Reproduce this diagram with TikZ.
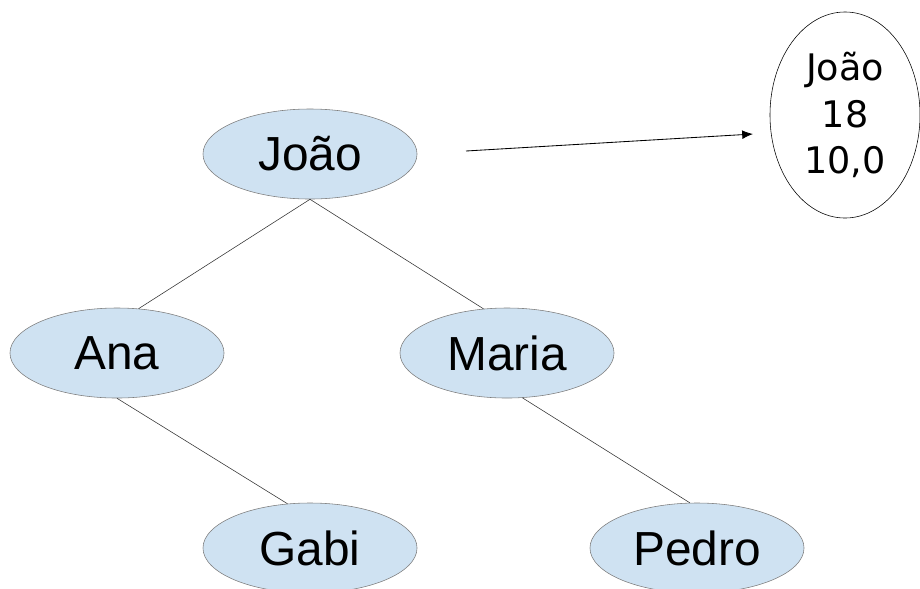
\documentclass[tikz,border=0pt]{standalone}
\usepackage{fontspec}
\setmainfont{Liberation Sans}
\newfontfamily\notefont{DejaVu Sans}
\usepackage{xcolor}
\usepackage{tikz}
\usetikzlibrary{arrows}
\usetikzlibrary{arrows.meta}
\usetikzlibrary{shapes}
\usetikzlibrary{shapes.geometric}
\definecolor{nodeblue}{RGB}{207,226,242}
\definecolor{nodegray}{RGB}{125,125,125}
\tikzset{>=latex}
\tikzstyle{person} = [ellipse, draw = nodegray, fill = nodeblue, minimum width = 5.35cm, minimum height = 2.25cm, inner sep = 0, font = \fontsize{34}{40}\selectfont]
\tikzstyle{record} = [ellipse, draw = black, minimum width = 3.75cm, minimum height = 5.15cm, inner sep = 0, align = center, font = \notefont\fontsize{26}{33}\selectfont]

\begin{document}
\begin{tikzpicture}[x = 0.025cm, y = -0.025cm]
\useasboundingbox (0, 0) rectangle (920, 588);
\node [person] (J) at (310, 154) {João};
\node [person] (A) at (117, 353) {Ana};
\node [person] (M) at (507, 353) {Maria};
\node [person] (G) at (310, 548) {Gabi};
\node [person] (P) at (697, 548) {Pedro};
\node [record] (R) at (845, 115) {João\\18\\10,0};
\coordinate (from) at (466, 151);
\coordinate (to) at (753, 134);
\draw [-{Latex[length = 0.27cm, width = 0.22cm]}, line width = 0.6pt] (from) to (to);
\draw [nodegray!40!black] (J.south) to (A.64);
\draw [nodegray!40!black] (J.south) to (M.118);
\draw [nodegray!40!black] (A.south) to (G.117);
\draw [nodegray!40!black] (M.289) to (P.99);
\end{tikzpicture}
\end{document}
